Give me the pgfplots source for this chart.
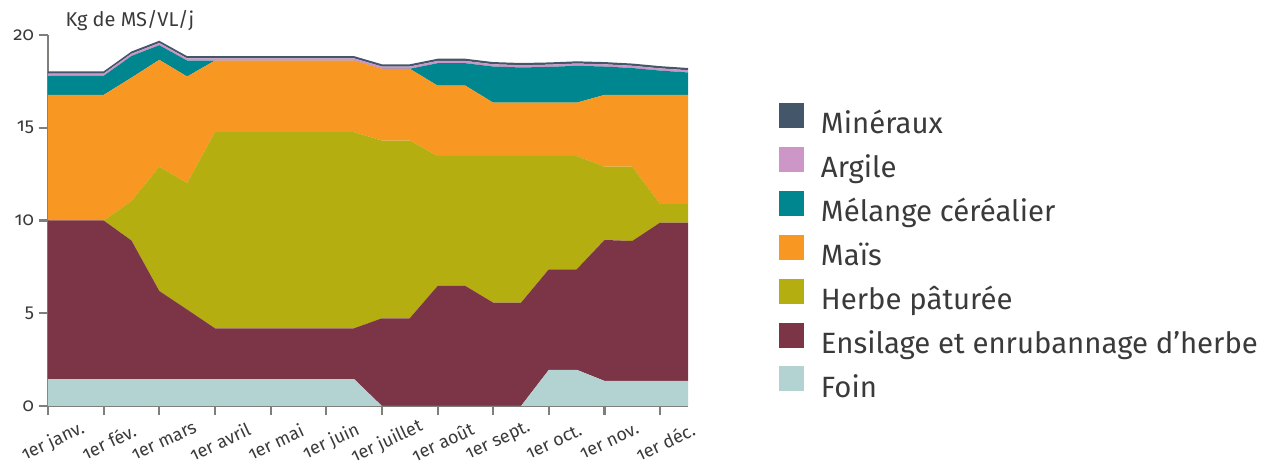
\documentclass[border=0pt]{standalone}
\usepackage{fontspec}
\setmainfont{Fira Sans}[Numbers=OldStyle]
\usepackage{pgfplots}
\pgfplotsset{compat=1.18}
\usepackage{pgfplotstable}

\definecolor{cmin}{HTML}{44576A}
\definecolor{carg}{HTML}{CC96C6}
\definecolor{cmel}{HTML}{00868F}
\definecolor{cmai}{HTML}{F89722}
\definecolor{cher}{HTML}{B5AE11}
\definecolor{cens}{HTML}{7C3547}
\definecolor{cfoi}{HTML}{B3D3D2}
\definecolor{axgrey}{HTML}{7D7F7A}
\definecolor{txt}{HTML}{3A3A3A}

\pgfplotstableread{
i foin ens herbe mais mel arg min
0 1.45 8.55 0.00 6.77 1.03 0.12 0.12
1 1.45 8.55 0.00 6.77 1.03 0.12 0.12
2 1.45 8.55 0.00 6.77 1.03 0.12 0.12
3 1.45 7.47 2.13 6.65 1.17 0.12 0.12
4 1.45 4.75 6.70 5.76 0.79 0.12 0.12
5 1.45 3.75 6.82 5.74 0.86 0.12 0.12
6 1.45 2.74 10.57 3.86 0.00 0.12 0.12
7 1.45 2.74 10.57 3.86 0.00 0.12 0.12
8 1.45 2.74 10.57 3.86 0.00 0.12 0.12
9 1.45 2.74 10.57 3.86 0.00 0.12 0.12
10 1.45 2.74 10.57 3.86 0.00 0.12 0.12
11 1.45 2.74 10.57 3.86 0.00 0.12 0.12
12 0.00 4.73 9.58 3.87 0.00 0.12 0.12
13 0.00 4.73 9.58 3.87 0.00 0.12 0.12
14 0.00 6.47 7.01 3.79 1.21 0.12 0.12
15 0.00 6.47 7.01 3.79 1.21 0.12 0.12
16 0.00 5.57 7.91 2.87 1.95 0.12 0.12
17 0.00 5.57 7.91 2.87 1.90 0.12 0.12
18 1.95 5.42 6.11 2.87 1.93 0.12 0.12
19 1.95 5.42 6.11 2.87 1.99 0.12 0.12
20 1.35 7.60 3.95 3.87 1.53 0.12 0.12
21 1.35 7.55 4.00 3.87 1.45 0.12 0.12
22 1.35 8.54 0.99 5.89 1.31 0.12 0.12
23 1.35 8.54 0.99 5.89 1.21 0.12 0.12
}\data

\begin{document}
\begin{tikzpicture}
\begin{axis}[
  at={(0pt,0pt)}, anchor=south west,
  scale only axis, width=480pt, height=278.25pt,
  xmin=0, xmax=23, ymin=0, ymax=20,
  stack plots=y, clip=false,
  axis x line*=bottom, axis y line*=left,
  axis line style={axgrey, line width=1.6pt, -},
  tick style={axgrey, line width=1.6pt},
  major tick length=7pt, tick align=outside,
  xtick={0,2,...,22},
  xticklabels={1er janv.,1er fév.,1er mars,1er avril,1er mai,1er juin,1er juillet,1er août,1er sept.,1er oct.,1er nov.,1er déc.},
  xticklabel style={rotate=25, anchor=center, yshift=-19.5pt, xshift=-5pt, font=\fontsize{13.5pt}{15pt}\selectfont, text=txt},
  ytick={0,5,10,15,20},
  yticklabel style={font=\fontsize{14pt}{16pt}\selectfont, text=txt},
  /pgf/number format/assume math mode=true,
  legend style={at={(1.136,0.825)}, anchor=north west, draw=none, fill=none,
    font=\fontsize{22pt}{24pt}\selectfont, text=txt, row sep=5pt,
    nodes={inner sep=0pt, text height=17pt, text depth=5pt}},
  legend cell align=left, reverse legend,
  legend image code/.code={\fill[#1] (0pt,-1.8pt) rectangle (18.75pt,16.95pt);},
]
\addplot[fill=cfoi, draw=none] table[x=i, y=foin] {\data} \closedcycle;
\addlegendentry{\hspace{12.5pt}Foin}
\addplot[fill=cens, draw=none] table[x=i, y=ens] {\data} \closedcycle;
\addlegendentry{\hspace{12.5pt}Ensilage et enrubannage d’herbe}
\addplot[fill=cher, draw=none] table[x=i, y=herbe] {\data} \closedcycle;
\addlegendentry{\hspace{12.5pt}Herbe pâturée}
\addplot[fill=cmai, draw=none] table[x=i, y=mais] {\data} \closedcycle;
\addlegendentry{\hspace{12.5pt}Maïs}
\addplot[fill=cmel, draw=none] table[x=i, y=mel] {\data} \closedcycle;
\addlegendentry{\hspace{12.5pt}Mélange céréalier}
\addplot[fill=carg, draw=none] table[x=i, y=arg] {\data} \closedcycle;
\addlegendentry{\hspace{12.5pt}Argile}
\addplot[fill=cmin, draw=none] table[x=i, y=min] {\data} \closedcycle;
\addlegendentry{\hspace{12.5pt}Minéraux}
\node[anchor=west, font=\fontsize{15pt}{17pt}\selectfont, text=txt] at (axis description cs:0.02,1.04) {Kg de MS/VL/j};
\end{axis}
\pgfresetboundingbox
\path[use as bounding box] (-36pt,-45pt) rectangle (913.5pt,304.5pt);
\end{tikzpicture}
\end{document}
